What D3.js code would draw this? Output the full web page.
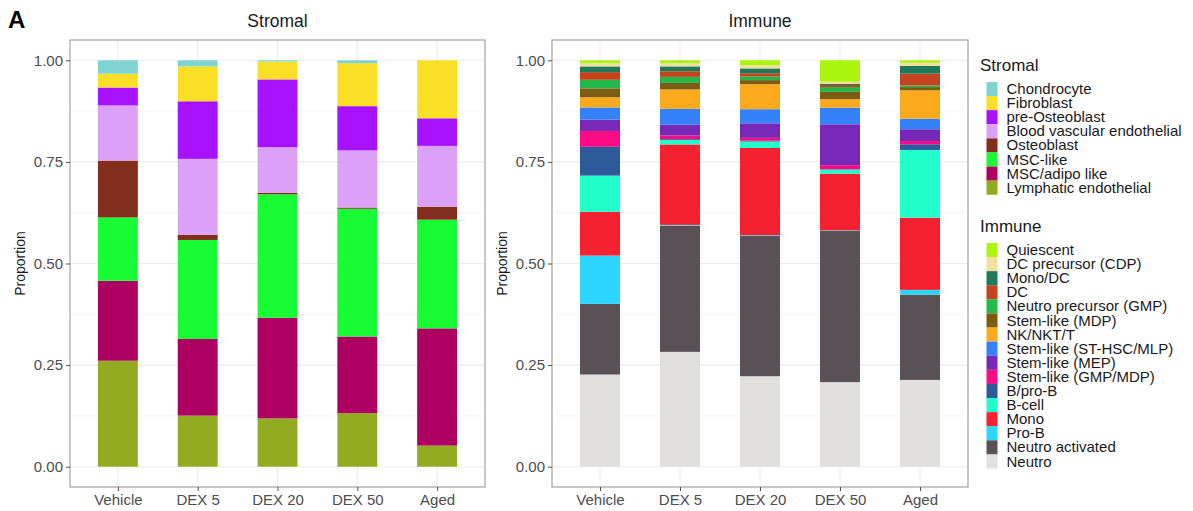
<!DOCTYPE html>
<html>
<head>
  <title>Stromal / Immune proportions</title>
  <script src="https://d3js.org/d3.v7.min.js"></script>
</head>
<body style="margin:0px; overflow:hidden; background:#fff;">
  <svg id="myPlot" width="1193" height="511"></svg>

  <script>
    // Samples (x axis)
    const samples = ["Vehicle", "DEX 5", "DEX 20", "DEX 50", "Aged"];
    const yTicks = [0, 0.25, 0.5, 0.75, 1];

    // Stromal cell types, legend order (top of stack first)
    const stromalTypes = ["Chondrocyte", "Fibroblast", "pre-Osteoblast", "Blood vascular endothelial",
      "Osteoblast", "MSC-like", "MSC/adipo like", "Lymphatic endothelial"];
    const stromalColors = ["#7fd4d2", "#f9e026", "#a711ff", "#dba1f8",
      "#832e1c", "#18fc34", "#ad0062", "#92ab20"];
    // one row per type, values per sample
    const stromalProps = [
      [0.033, 0.015, 0.003, 0.007, 0.000],
      [0.034, 0.086, 0.044, 0.106, 0.143],
      [0.044, 0.142, 0.167, 0.109, 0.068],
      [0.136, 0.187, 0.112, 0.141, 0.150],
      [0.140, 0.013, 0.004, 0.003, 0.032],
      [0.156, 0.244, 0.304, 0.315, 0.268],
      [0.197, 0.189, 0.248, 0.189, 0.289],
      [0.261, 0.126, 0.119, 0.132, 0.052]
    ];

    // Immune cell types, legend order (top of stack first)
    const immuneTypes = ["Quiescent", "DC precursor (CDP)", "Mono/DC", "DC", "Neutro precursor (GMP)",
      "Stem-like (MDP)", "NK/NKT/T", "Stem-like (ST-HSC/MLP)", "Stem-like (MEP)", "Stem-like (GMP/MDP)",
      "B/pro-B", "B-cell", "Mono", "Pro-B", "Neutro activated", "Neutro"];
    const immuneColors = ["#aaf50c", "#f4df9e", "#1e7a58", "#c4441f", "#24b84b",
      "#7c5c12", "#fca91b", "#3481f9", "#7828b6", "#fb0a86",
      "#2c5a9b", "#20fecb", "#f6212f", "#2bd5fb", "#5a5156", "#e2dfdf"];
    const immuneProps = [
      [0.007, 0.007, 0.012, 0.053, 0.006],
      [0.008, 0.008, 0.008, 0.005, 0.008],
      [0.014, 0.012, 0.012, 0.003, 0.019],
      [0.019, 0.014, 0.008, 0.005, 0.029],
      [0.021, 0.015, 0.009, 0.012, 0.004],
      [0.022, 0.016, 0.010, 0.018, 0.008],
      [0.025, 0.048, 0.062, 0.021, 0.070],
      [0.030, 0.039, 0.035, 0.041, 0.026],
      [0.028, 0.027, 0.036, 0.101, 0.029],
      [0.039, 0.009, 0.007, 0.010, 0.008],
      [0.071, 0.002, 0.002, 0.001, 0.014],
      [0.089, 0.011, 0.016, 0.010, 0.167],
      [0.108, 0.199, 0.216, 0.140, 0.178],
      [0.119, 0.002, 0.002, 0.001, 0.012],
      [0.174, 0.312, 0.347, 0.374, 0.210],
      [0.227, 0.284, 0.224, 0.209, 0.214]
    ];

    const font = "'Liberation Sans', Arial, Helvetica, sans-serif";
    const svg = d3.select("#myPlot").style("font-family", font);

    // Panel letter
    svg.append("text")
      .attr("x", 8).attr("y", 28)
      .attr("font-size", 24).attr("font-weight", "bold")
      .text("A");

    function drawPanel(left, right, title, types, colors, props) {
      const top = 40, bottom = 487;

      const x = d3.scalePoint().domain(samples).range([left, right]).padding(0.6);
      const y = d3.scaleLinear().domain([-0.05, 1.05]).range([bottom, top]);
      const barW = x.step() * 0.5;

      const g = svg.append("g");

      // minor grid
      g.selectAll(".minor")
        .data([0.125, 0.375, 0.625, 0.875])
        .enter().append("line")
        .attr("x1", left).attr("x2", right)
        .attr("y1", d => y(d)).attr("y2", d => y(d))
        .attr("stroke", "#f3f3f3").attr("stroke-width", 0.8);

      // major grid
      g.selectAll(".hmajor")
        .data(yTicks)
        .enter().append("line")
        .attr("x1", left).attr("x2", right)
        .attr("y1", d => y(d)).attr("y2", d => y(d))
        .attr("stroke", "#ebebeb").attr("stroke-width", 1.1);

      g.selectAll(".vmajor")
        .data(samples)
        .enter().append("line")
        .attr("x1", d => x(d)).attr("x2", d => x(d))
        .attr("y1", top).attr("y2", bottom)
        .attr("stroke", "#ebebeb").attr("stroke-width", 1.1);

      // stacked bars: bottom = last legend item
      const rows = samples.map((s, i) => {
        const r = { sample: s };
        types.forEach((t, k) => { r[t] = props[k][i]; });
        return r;
      });
      const stack = d3.stack()
        .keys(types.slice().reverse())
        .offset(d3.stackOffsetExpand);
      const series = stack(rows);
      const color = d3.scaleOrdinal().domain(types).range(colors);

      g.selectAll(".layer")
        .data(series)
        .enter().append("g")
        .attr("fill", d => color(d.key))
        .selectAll("rect")
        .data(d => d)
        .enter().append("rect")
        .attr("x", d => x(d.data.sample) - barW / 2)
        .attr("width", barW)
        .attr("y", d => y(d[1]))
        .attr("height", d => y(d[0]) - y(d[1]));

      // border
      g.append("rect")
        .attr("x", left).attr("y", top)
        .attr("width", right - left).attr("height", bottom - top)
        .attr("fill", "none").attr("stroke", "#9a9a9a").attr("stroke-width", 1.1);

      // axes
      const yAxis = g.append("g")
        .attr("transform", "translate(" + left + ",0)")
        .call(d3.axisLeft(y).tickValues(yTicks).tickFormat(d3.format(".2f")).tickSize(4).tickPadding(3));
      const xAxis = g.append("g")
        .attr("transform", "translate(0," + bottom + ")")
        .call(d3.axisBottom(x).tickSize(4).tickPadding(3));
      [yAxis, xAxis].forEach(a => {
        a.select(".domain").remove();
        a.selectAll(".tick line").attr("stroke", "#4d4d4d");
        a.selectAll(".tick text").attr("fill", "#4d4d4d")
          .attr("font-size", 15).attr("font-family", font);
      });

      // title
      svg.append("text")
        .attr("x", (left + right) / 2).attr("y", 27)
        .attr("text-anchor", "middle").attr("font-size", 17.5)
        .attr("fill", "#1a1a1a")
        .text(title);

      // y label
      svg.append("text")
        .attr("transform", "translate(" + (left - 45) + "," + ((top + bottom) / 2) + ") rotate(-90)")
        .attr("text-anchor", "middle").attr("font-size", 14)
        .attr("fill", "#1a1a1a")
        .text("Proportion");
    }

    drawPanel(70, 485, "Stromal", stromalTypes, stromalColors, stromalProps);
    drawPanel(552, 968, "Immune", immuneTypes, immuneColors, immuneProps);

    // Legends
    function drawLegend(titleY, title, types, colors) {
      const lg = svg.append("g");
      lg.append("text")
        .attr("x", 980).attr("y", titleY)
        .attr("font-size", 17).attr("fill", "#1a1a1a")
        .text(title);
      const rowH = 14.1;
      const first = titleY + 18;
      const items = lg.selectAll(".item")
        .data(types)
        .enter().append("g")
        .attr("transform", (d, i) => "translate(0," + (first + i * rowH) + ")");
      items.append("rect")
        .attr("x", 986.5).attr("y", -rowH / 2)
        .attr("width", 11).attr("height", rowH)
        .attr("fill", (d, i) => colors[i]);
      items.append("text")
        .attr("x", 1006.5).attr("y", 5)
        .attr("font-size", 15).attr("fill", "#1a1a1a")
        .text(d => d);
    }

    drawLegend(71, "Stromal", stromalTypes, stromalColors);
    drawLegend(232, "Immune", immuneTypes, immuneColors);
  </script>
</body>
</html>
